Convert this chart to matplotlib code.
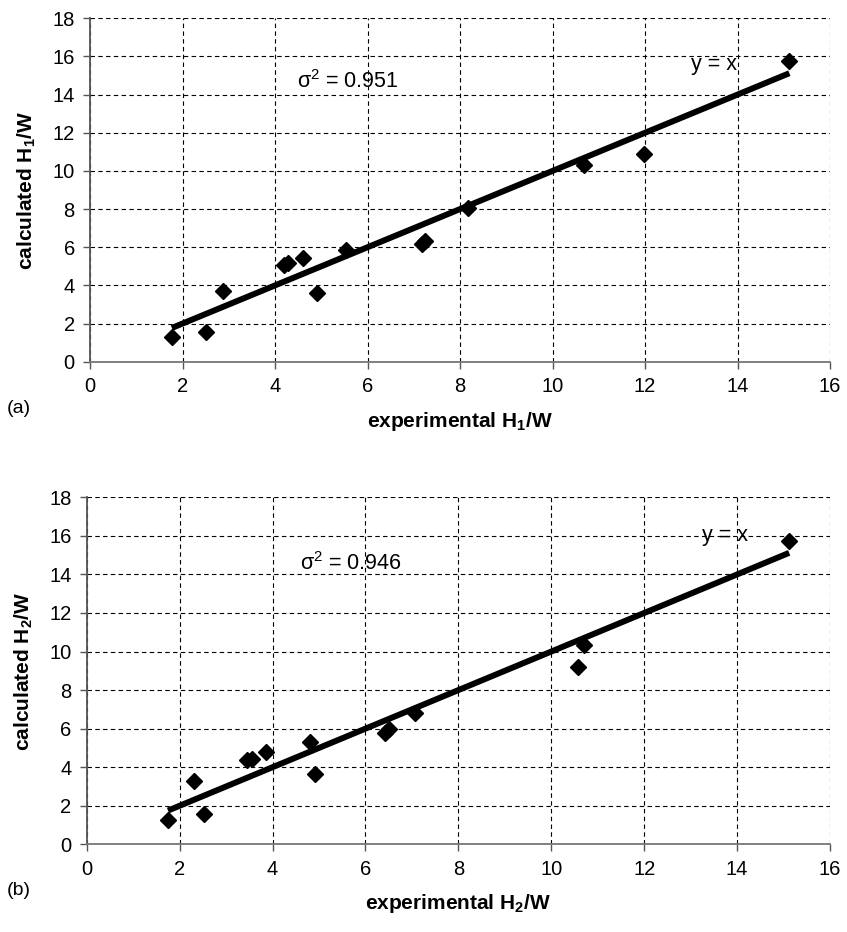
import matplotlib
matplotlib.use("Agg")
import matplotlib.pyplot as plt
import numpy as np

plt.rcParams['font.family'] = ['Liberation Sans Narrow', 'Liberation Sans', 'DejaVu Sans']
plt.rcParams['mathtext.fontset'] = 'custom'
plt.rcParams['mathtext.rm'] = 'Liberation Sans'
plt.rcParams['mathtext.bf'] = 'Liberation Sans:bold'

# --- données ---
exp_h1 = [1.77, 2.51, 2.87, 4.20, 4.28, 4.60, 4.91, 5.53, 7.17, 7.25, 8.18, 10.68, 11.98, 15.12]
calc_h1 = [1.30, 1.57, 3.70, 5.05, 5.15, 5.44, 3.61, 5.85, 6.15, 6.35, 8.08, 10.30, 10.90, 15.76]

exp_h2 = [1.75, 2.30, 2.53, 3.45, 3.55, 3.85, 4.80, 4.92, 6.43, 6.50, 7.06, 10.57, 10.70, 15.12]
calc_h2 = [1.28, 3.30, 1.55, 4.35, 4.45, 4.80, 5.30, 3.65, 5.75, 6.00, 6.80, 9.20, 10.34, 15.73]

sigma_labels = ["0.951", "0.946"]
panel_tags = ["(a)", "(b)"]
x_labels = [r"experimental H$_\mathbf{1}$/W", r"experimental H$_\mathbf{2}$/W"]
y_labels = [r"calculated H$_\mathbf{1}$/W", r"calculated H$_\mathbf{2}$/W"]

fig = plt.figure(figsize=(8.47, 9.32), dpi=100)
ax_a = fig.add_axes([0.1063, 0.6119, 0.8737, 0.3685])
ax_b = fig.add_axes([0.1024, 0.0941, 0.8776, 0.3723])

panels = [
    (ax_a, exp_h1, calc_h1, (4.47, 14.66), (13.0, 15.6)),
    (ax_b, exp_h2, calc_h2, (4.6, 14.54), (13.25, 16.04)),
]

for i, (ax, xs, ys, sig_pos, yx_pos) in enumerate(panels):
    # droite y = x sur l'étendue des données
    lo, hi = min(xs), max(xs)
    ax.plot([lo, hi], [lo, hi], color="black", lw=4.3, solid_capstyle="butt", zorder=3)
    ax.plot(xs, ys, "D", color="black", ms=8, zorder=4)

    ax.set_xlim(0, 16)
    ax.set_ylim(0, 18)
    ax.set_xticks(np.arange(0, 17, 2))
    ax.set_yticks(np.arange(0, 19, 2))
    ax.grid(True, color="black", ls=(0, (4, 3)), lw=0.8)
    ax.set_axisbelow(True)
    for side in ("top", "right"):
        ax.spines[side].set_visible(False)
    ax.spines["left"].set_color("#555555")
    ax.spines["bottom"].set_color("#777777")
    ax.spines["left"].set_linewidth(1.3)
    ax.spines["bottom"].set_linewidth(1.3)
    ax.tick_params(direction="out", length=5, width=1, colors="#555555",
                   labelcolor="black", labelsize=14.5, pad=6)

    ax.set_xlabel(x_labels[i], fontsize=15, fontweight="bold", labelpad=10)
    ax.set_ylabel(y_labels[i], fontsize=15, fontweight="bold", labelpad=10)

    ax.text(sig_pos[0], sig_pos[1], "σ$^{2}$ = " + sigma_labels[i], fontsize=15.5,
            va="center", ha="left")
    ax.text(yx_pos[0], yx_pos[1], "y = x", fontsize=15.5, va="center", ha="left")

fig.text(0.008, 0.562, panel_tags[0], fontsize=14, va="center", ha="left")
fig.text(0.008, 0.044, panel_tags[1], fontsize=14, va="center", ha="left")

fig.savefig("out.png", dpi=100)
